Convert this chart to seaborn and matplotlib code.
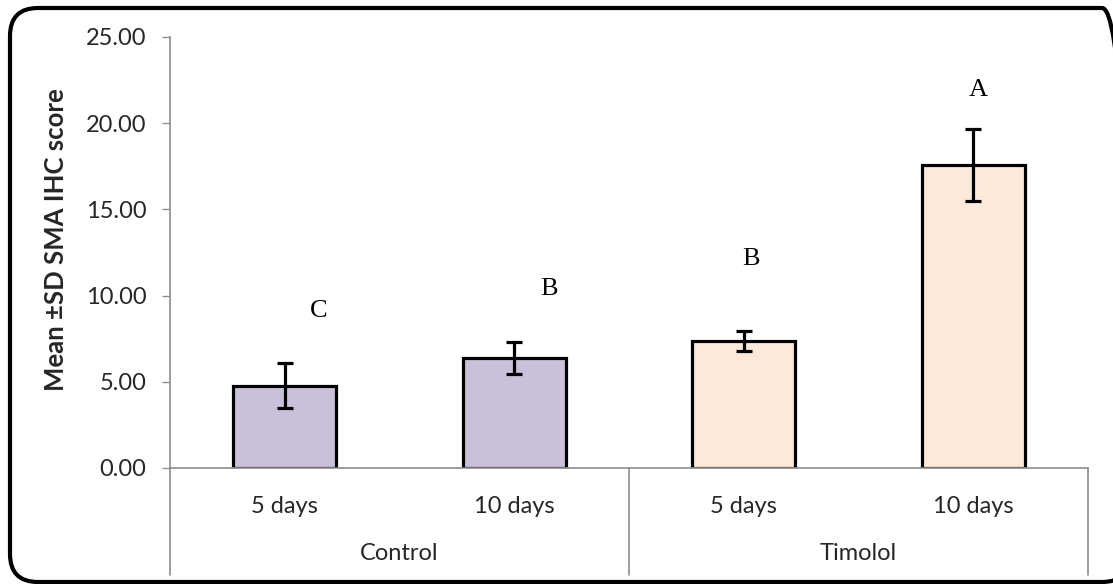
import matplotlib
matplotlib.use("Agg")
import matplotlib.pyplot as plt
from matplotlib.patches import FancyBboxPatch
from matplotlib.lines import Line2D
from matplotlib.transforms import IdentityTransform
import seaborn as sns
import pandas as pd

# Data
groups = ["Control", "Control", "Timolol", "Timolol"]
durations = ["5 days", "10 days", "5 days", "10 days"]
means = [4.78, 6.38, 7.37, 17.57]
sds = [1.32, 0.90, 0.60, 2.08]
letters = ["C", "B", "B", "A"]
letter_heights = [9.1, 10.4, 12.1, 21.9]
group_names = ["Control", "Timolol"]
bar_colors = ["#CBC0DA", "#CBC0DA", "#FDE9D9", "#FDE9D9"]
yticks = [0, 5, 10, 15, 20, 25]

df = pd.DataFrame({
    "pos": [f"{g}\n{d}" for g, d in zip(groups, durations)],
    "mean": means,
})

sns.set_theme(style="white")
plt.rcParams["font.family"] = ["Lato", "DejaVu Sans"]

W, H = 1113, 584
fig = plt.figure(figsize=(W / 100, H / 100), dpi=100)
ax = fig.add_axes([170 / W, 1 - 468 / H, (1088 - 170) / W, (468 - 37) / H])

sns.barplot(data=df, x="pos", y="mean", hue="pos", palette=bar_colors,
            legend=False, width=0.45, edgecolor="black", linewidth=2.3,
            errorbar=None, ax=ax, saturation=1)

xs = list(range(len(means)))
ax.errorbar(xs, means, yerr=sds, fmt="none", ecolor="black", elinewidth=2.3,
            capsize=5.5, capthick=2.3, zorder=5)

for x, lt, h, off in zip(xs, letters, letter_heights, [0.15, 0.15, 0.03, 0.02]):
    ax.text(x + off, h, lt, ha="center", va="center", fontsize=19,
            family="Liberation Serif", color="black")

ax.set_xlim(-0.5, 3.5)
ax.set_ylim(0, 25)
ax.set_yticks(yticks)
ax.set_yticklabels([f"{v:.2f}" for v in yticks], fontsize=17)
ax.set_xticks(xs)
ax.set_xticklabels(durations, fontsize=17)
ax.tick_params(axis="x", length=0, pad=20)
ax.tick_params(axis="y", length=6, width=1, color="#8c8c8c", left=True, pad=11)
ax.set_xlabel("")
ax.set_ylabel("Mean \u00b1SD SMA IHC score", fontsize=18.5, fontweight="bold")
ax.yaxis.set_label_coords(-0.111, 0.53)

for s in ["top", "right"]:
    ax.spines[s].set_visible(False)
for s in ["left", "bottom"]:
    ax.spines[s].set_color("#8c8c8c")
    ax.spines[s].set_linewidth(1.2)

# Group separators below the axis
trans = ax.get_xaxis_transform()
for xv in [-0.5, 1.5, 3.5]:
    ax.add_line(Line2D([xv, xv], [0, -107 / 431], transform=trans, color="#8c8c8c",
                       lw=1.2, clip_on=False))
for i, g in enumerate(group_names):
    ax.text(2 * i + 0.5, -85 / 431, g, transform=trans, ha="center", va="center",
            fontsize=17)

# Rounded outer frame in pixel units (right side runs past the canvas edge)
frame = FancyBboxPatch((10, 2), 1120, 574,
                       boxstyle="round,pad=0,rounding_size=28",
                       transform=IdentityTransform(), fill=False,
                       edgecolor="black", linewidth=3)
fig.patches.append(frame)

fig.savefig("out.png", dpi=100)
